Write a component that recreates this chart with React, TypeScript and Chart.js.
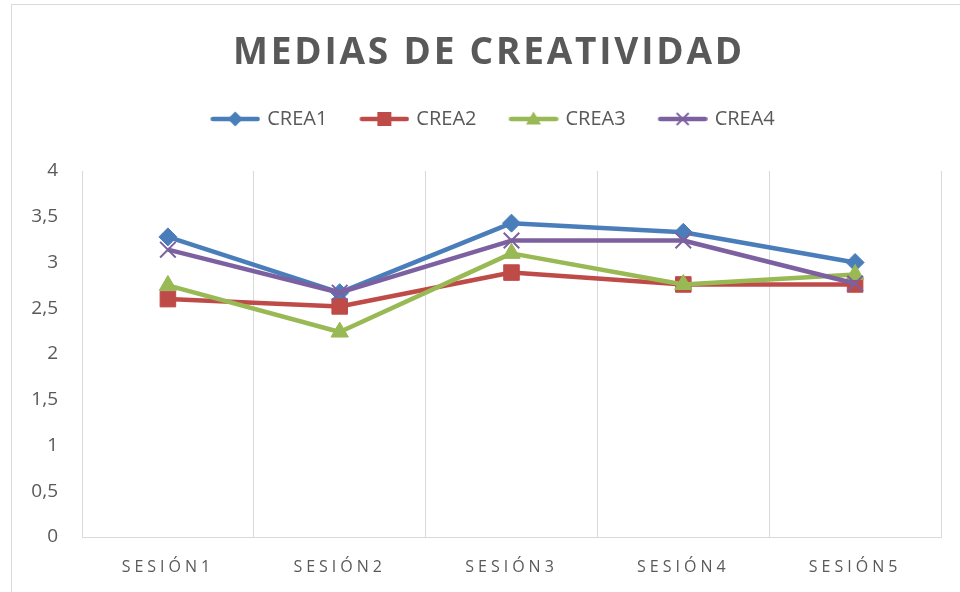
import React, { useEffect, useRef } from 'react';
import { Chart, registerables } from 'chart.js';

Chart.register(...registerables);

const titleText = 'MEDIAS DE CREATIVIDAD';
const categories = ['SESIÓN1', 'SESIÓN2', 'SESIÓN3', 'SESIÓN4', 'SESIÓN5'];
const seriesNames = ['CREA1', 'CREA2', 'CREA3', 'CREA4'];
const crea1 = [3.28, 2.67, 3.43, 3.33, 3.0];
const crea2 = [2.6, 2.52, 2.89, 2.76, 2.76];
const crea3 = [2.75, 2.24, 3.1, 2.76, 2.87];
const crea4 = [3.14, 2.67, 3.24, 3.24, 2.77];
const seriesValues = [crea1, crea2, crea3, crea4];
const seriesColors = ['#4A7EBB', '#BE4B48', '#98B954', '#7D60A0'];
const seriesMarkers = ['rectRot', 'rect', 'triangle', 'crossRot'];
const markerRadius = [9, 11, 10, 11];
const markerBorder = [1, 1, 1, 2];
const yMin = 0;
const yMax = 4;
const yStep = 0.5;

const TEXT = '#595959';
const GRID = '#D9D9D9';
const FONT = 'Open Sans';
const LEGEND_BOX = 54;
const LEGEND_FONT = 20;
const LEGEND_PAD = 25;
const LEGEND_GAP = 32;

function makeLegendImage(color: string, marker: string): HTMLCanvasElement {
  const W = LEGEND_BOX + 6;
  const H = 22;
  const c = document.createElement('canvas');
  c.width = W;
  c.height = H;
  const g = c.getContext('2d') as CanvasRenderingContext2D;
  const x0 = W - 50;
  const x1 = W;
  const cy = H / 2;
  const cx = (x0 + x1) / 2;
  g.strokeStyle = color;
  g.fillStyle = color;
  g.lineWidth = 4.5;
  g.lineCap = 'round';
  g.beginPath();
  g.moveTo(x0 + 2.5, cy);
  g.lineTo(x1 - 2.5, cy);
  g.stroke();
  const r = 7.5;
  g.beginPath();
  if (marker === 'rectRot') {
    g.moveTo(cx - r, cy);
    g.lineTo(cx, cy - r);
    g.lineTo(cx + r, cy);
    g.lineTo(cx, cy + r);
    g.closePath();
    g.fill();
  } else if (marker === 'rect') {
    g.rect(cx - 7, cy - 7, 14, 14);
    g.fill();
  } else if (marker === 'triangle') {
    g.moveTo(cx, cy - 7.5);
    g.lineTo(cx + 7.5, cy + 5.5);
    g.lineTo(cx - 7.5, cy + 5.5);
    g.closePath();
    g.fill();
  } else {
    g.lineWidth = 1.8;
    g.lineCap = 'butt';
    g.moveTo(cx - 6, cy - 6);
    g.lineTo(cx + 6, cy + 6);
    g.moveTo(cx + 6, cy - 6);
    g.lineTo(cx - 6, cy + 6);
    g.stroke();
  }
  return c;
}

const patcher = {
  id: 'patcher',
  beforeLayout(chart: any) {
    const lg = chart.legend;
    if (lg && !lg.__p) {
      lg.__p = true;
      const f = lg.fit.bind(lg);
      lg.fit = () => {
        f();
        lg.height += LEGEND_GAP;
      };
    }
    const tb = chart.titleBlock;
    if (tb && !tb.__p) {
      tb.__p = true;
      const d = tb.draw.bind(tb);
      tb.draw = (...a: any[]) => {
        const c = tb.ctx;
        c.save();
        c.letterSpacing = '2.8px';
        d(...a);
        c.restore();
      };
    }
  },
  beforeDraw(chart: any) {
    const xs = chart.scales.x;
    if (xs && !xs.__p) {
      xs.__p = true;
      const d = xs.drawLabels.bind(xs);
      xs.drawLabels = (a: any) => {
        const c = xs.ctx;
        c.save();
        c.letterSpacing = '4px';
        d(a);
        c.restore();
      };
    }
  },
};

export default function App() {
  const ref = useRef<HTMLCanvasElement>(null);

  useEffect(() => {
    if (!ref.current) return;
    const legendImgs = seriesNames.map((_, i) => makeLegendImage(seriesColors[i], seriesMarkers[i]));
    const datasets = seriesNames.map((name, i) => ({
      label: name,
      data: seriesValues[i],
      borderColor: seriesColors[i],
      backgroundColor: seriesColors[i],
      borderWidth: 4.5,
      borderJoinStyle: 'round' as const,
      pointStyle: seriesMarkers[i] as any,
      pointRadius: markerRadius[i],
      pointHoverRadius: markerRadius[i],
      pointBackgroundColor: seriesColors[i],
      pointBorderColor: seriesColors[i],
      pointBorderWidth: markerBorder[i],
      tension: 0,
      fill: false,
      order: seriesNames.length - i,
      yAxisID: 'y',
    }));

    const chart = new Chart(ref.current, {
      type: 'line',
      data: { labels: categories, datasets },
      plugins: [patcher as any],
      options: {
        responsive: false,
        animation: false,
        events: [],
        layout: { padding: { left: 6, right: 0, top: 0, bottom: 0 } },
        plugins: {
          title: {
            display: true,
            text: titleText,
            color: TEXT,
            font: { family: FONT, size: 37, weight: 'bold' },
            padding: { top: 26, bottom: 8.6 },
          },
          legend: {
            display: true,
            position: 'top',
            labels: {
              usePointStyle: true,
              pointStyleWidth: LEGEND_BOX,
              padding: LEGEND_PAD,
              color: TEXT,
              font: { family: FONT, size: LEGEND_FONT },
              generateLabels: (ch: any) =>
                (Chart.defaults.plugins.legend.labels.generateLabels as any)(ch).map((it: any) => ({
                  ...it,
                  pointStyle: legendImgs[it.datasetIndex],
                })),
              sort: (a: any, b: any) => a.datasetIndex - b.datasetIndex,
            },
          },
          tooltip: { enabled: false },
        },
        scales: {
          x: {
            type: 'category',
            offset: true,
            grid: { display: true, offset: true, color: GRID, lineWidth: 1, drawTicks: false },
            border: { display: true, color: GRID, width: 1 },
            ticks: {
              color: TEXT,
              font: { family: FONT, size: 16 },
              padding: 21,
              autoSkip: false,
              maxRotation: 0,
            },
            afterFit: (s: any) => {
              s.height = 55;
            },
          },
          y: {
            min: yMin,
            max: yMax,
            grid: { display: false, drawTicks: false },
            border: { display: false },
            ticks: {
              stepSize: yStep,
              color: TEXT,
              font: { family: FONT, size: 19 },
              padding: 24,
              callback: (v: any) => String(v).replace('.', ','),
            },
            afterFit: (s: any) => {
              s.width = 64;
            },
          },
          yRight: {
            type: 'linear',
            position: 'right',
            display: true,
            grid: { display: false, drawTicks: false },
            border: { display: false },
            ticks: { display: false },
            afterFit: (s: any) => {
              s.width = 19;
            },
          },
        },
      } as any,
    });
    return () => chart.destroy();
  }, []);

  return (
    <div
      style={{
        position: 'fixed',
        left: 0,
        top: 0,
        width: 960,
        height: 592,
        overflow: 'hidden',
        background: '#fff',
      }}
    >
      <div
        style={{
          position: 'absolute',
          left: 11,
          top: 4,
          width: 960,
          height: 600,
          borderLeft: '1px solid #D9D9D9',
          borderTop: '1px solid #D9D9D9',
        }}
      >
        <canvas ref={ref} width={948} height={587} style={{ display: 'block', width: 948, height: 587 }} />
      </div>
    </div>
  );
}
